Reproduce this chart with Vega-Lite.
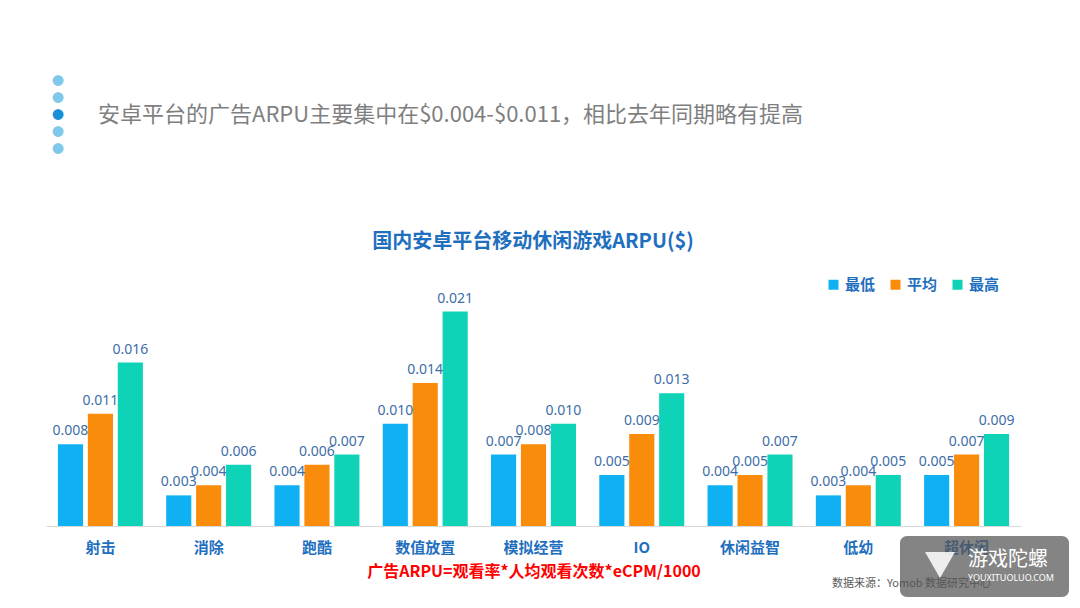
{
  "$schema": "https://vega.github.io/schema/vega-lite/v6.json",
  "width": 975,
  "height": 240,
  "autosize": {"type": "none"},
  "padding": {"left": 46, "top": 286, "right": 59, "bottom": 82},
  "background": "white",
  "config": {"view": {"stroke": null}, "font": "Noto Sans CJK SC"},
  "layer": [
    {
      "data": {
        "values": [
          {"category": "射击", "series": "最低", "value": 0.008},
          {"category": "射击", "series": "平均", "value": 0.011},
          {"category": "射击", "series": "最高", "value": 0.016},
          {"category": "消除", "series": "最低", "value": 0.003},
          {"category": "消除", "series": "平均", "value": 0.004},
          {"category": "消除", "series": "最高", "value": 0.006},
          {"category": "跑酷", "series": "最低", "value": 0.004},
          {"category": "跑酷", "series": "平均", "value": 0.006},
          {"category": "跑酷", "series": "最高", "value": 0.007},
          {"category": "数值放置", "series": "最低", "value": 0.010},
          {"category": "数值放置", "series": "平均", "value": 0.014},
          {"category": "数值放置", "series": "最高", "value": 0.021},
          {"category": "模拟经营", "series": "最低", "value": 0.007},
          {"category": "模拟经营", "series": "平均", "value": 0.008},
          {"category": "模拟经营", "series": "最高", "value": 0.010},
          {"category": "IO", "series": "最低", "value": 0.005},
          {"category": "IO", "series": "平均", "value": 0.009},
          {"category": "IO", "series": "最高", "value": 0.013},
          {"category": "休闲益智", "series": "最低", "value": 0.004},
          {"category": "休闲益智", "series": "平均", "value": 0.005},
          {"category": "休闲益智", "series": "最高", "value": 0.007},
          {"category": "低幼", "series": "最低", "value": 0.003},
          {"category": "低幼", "series": "平均", "value": 0.004},
          {"category": "低幼", "series": "最高", "value": 0.005},
          {"category": "超休闲", "series": "最低", "value": 0.005},
          {"category": "超休闲", "series": "平均", "value": 0.007},
          {"category": "超休闲", "series": "最高", "value": 0.009}
        ]
      },
      "encoding": {
        "x": {
          "field": "category",
          "type": "nominal",
          "sort": null,
          "scale": {"paddingInner": 0.215, "paddingOuter": 0.11},
          "axis": {
            "title": "广告ARPU=观看率*人均观看次数*eCPM/1000",
            "titleColor": "#ff0000",
            "titleFontSize": 16,
            "titleFontWeight": "bold",
            "titleFont": "Noto Sans CJK SC",
            "titlePadding": 8,
            "labelAngle": 0,
            "labelColor": "#1f6fbf",
            "labelFontSize": 15,
            "labelFontWeight": "bold",
            "labelFont": "Noto Sans CJK SC",
            "labelPadding": 14,
            "ticks": false,
            "domainColor": "#d9d9d9",
            "domainWidth": 1
          }
        },
        "xOffset": {
          "field": "series",
          "type": "nominal",
          "sort": ["最低", "平均", "最高"],
          "scale": {"paddingInner": 0.16, "paddingOuter": 0}
        },
        "y": {
          "field": "value",
          "type": "quantitative",
          "scale": {"domain": [0, 0.0235], "nice": false},
          "axis": null
        }
      },
      "layer": [
        {
          "mark": {"type": "bar"},
          "encoding": {
            "color": {
              "field": "series",
              "type": "nominal",
              "sort": ["最低", "平均", "最高"],
              "scale": {"domain": ["最低", "平均", "最高"], "range": ["#10b1f3", "#fa8c0b", "#0fd3b6"]},
              "legend": {
                "title": null,
                "orient": "none",
                "legendX": 780,
                "legendY": -9,
                "direction": "horizontal",
                "symbolType": "square",
                "symbolSize": 100,
                "symbolStrokeWidth": 0,
                "labelFontSize": 15,
                "labelFontWeight": "bold",
                "labelColor": "#1f6fbf",
                "labelFont": "Noto Sans CJK SC",
                "labelOffset": 4,
                "columnPadding": 12
              }
            }
          }
        },
        {
          "mark": {"type": "text", "baseline": "bottom", "dy": -6, "fontSize": 14, "color": "#3d6ea8", "font": "Noto Sans"},
          "encoding": {
            "text": {"field": "value", "type": "quantitative", "format": ".3f"}
          }
        }
      ]
    },
    {
      "data": {"values": [{}]},
      "mark": {"type": "text", "x": 487, "y": -44, "align": "center", "baseline": "middle", "fontSize": 20, "fontWeight": "bold", "color": "#1f6fbf", "font": "Noto Sans CJK SC", "text": "国内安卓平台移动休闲游戏ARPU($)"},
      "encoding": {}
    },
    {
      "data": {"values": [{}]},
      "mark": {"type": "text", "x": 52, "y": -171, "align": "left", "baseline": "middle", "fontSize": 22, "color": "#7f7f7f", "font": "Noto Sans CJK SC", "text": "安卓平台的广告ARPU主要集中在$0.004-$0.011，相比去年同期略有提高"},
      "encoding": {}
    },
    {
      "data": {"values": [{}]},
      "mark": {"type": "text", "x": 12, "y": -204, "align": "center", "baseline": "middle", "fontSize": 12, "color": "#7fc8ea", "text": "●"},
      "encoding": {}
    },
    {
      "data": {"values": [{}]},
      "mark": {"type": "text", "x": 12, "y": -187, "align": "center", "baseline": "middle", "fontSize": 12, "color": "#7fc8ea", "text": "●"},
      "encoding": {}
    },
    {
      "data": {"values": [{}]},
      "mark": {"type": "text", "x": 12, "y": -170, "align": "center", "baseline": "middle", "fontSize": 12, "color": "#1a8fd6", "text": "●"},
      "encoding": {}
    },
    {
      "data": {"values": [{}]},
      "mark": {"type": "text", "x": 12, "y": -153, "align": "center", "baseline": "middle", "fontSize": 12, "color": "#7fc8ea", "text": "●"},
      "encoding": {}
    },
    {
      "data": {"values": [{}]},
      "mark": {"type": "text", "x": 12, "y": -136, "align": "center", "baseline": "middle", "fontSize": 12, "color": "#7fc8ea", "text": "●"},
      "encoding": {}
    },
    {
      "data": {"values": [{}]},
      "mark": {"type": "text", "x": 786, "y": 298, "align": "left", "baseline": "middle", "fontSize": 11, "color": "#595959", "font": "Noto Sans CJK SC", "text": "数据来源：Yomob 数据研究中心"},
      "encoding": {}
    },
    {
      "data": {"values": [{}]},
      "mark": {"type": "rect", "x": 854, "x2": 1023, "y": 250, "y2": 311, "cornerRadius": 7, "color": "#555555", "opacity": 0.72},
      "encoding": {}
    },
    {
      "data": {"values": [{}]},
      "mark": {"type": "point", "x": 894, "y": 279, "shape": "triangle-down", "size": 900, "filled": true, "color": "white", "opacity": 0.85},
      "encoding": {}
    },
    {
      "data": {"values": [{}]},
      "mark": {"type": "text", "x": 922, "y": 274, "align": "left", "baseline": "middle", "fontSize": 20, "color": "white", "font": "Noto Sans CJK SC", "text": "游戏陀螺"},
      "encoding": {}
    },
    {
      "data": {"values": [{}]},
      "mark": {"type": "text", "x": 922, "y": 292, "align": "left", "baseline": "middle", "fontSize": 9, "color": "white", "font": "Noto Sans", "text": "YOUXITUOLUO.COM"},
      "encoding": {}
    }
  ]
}
